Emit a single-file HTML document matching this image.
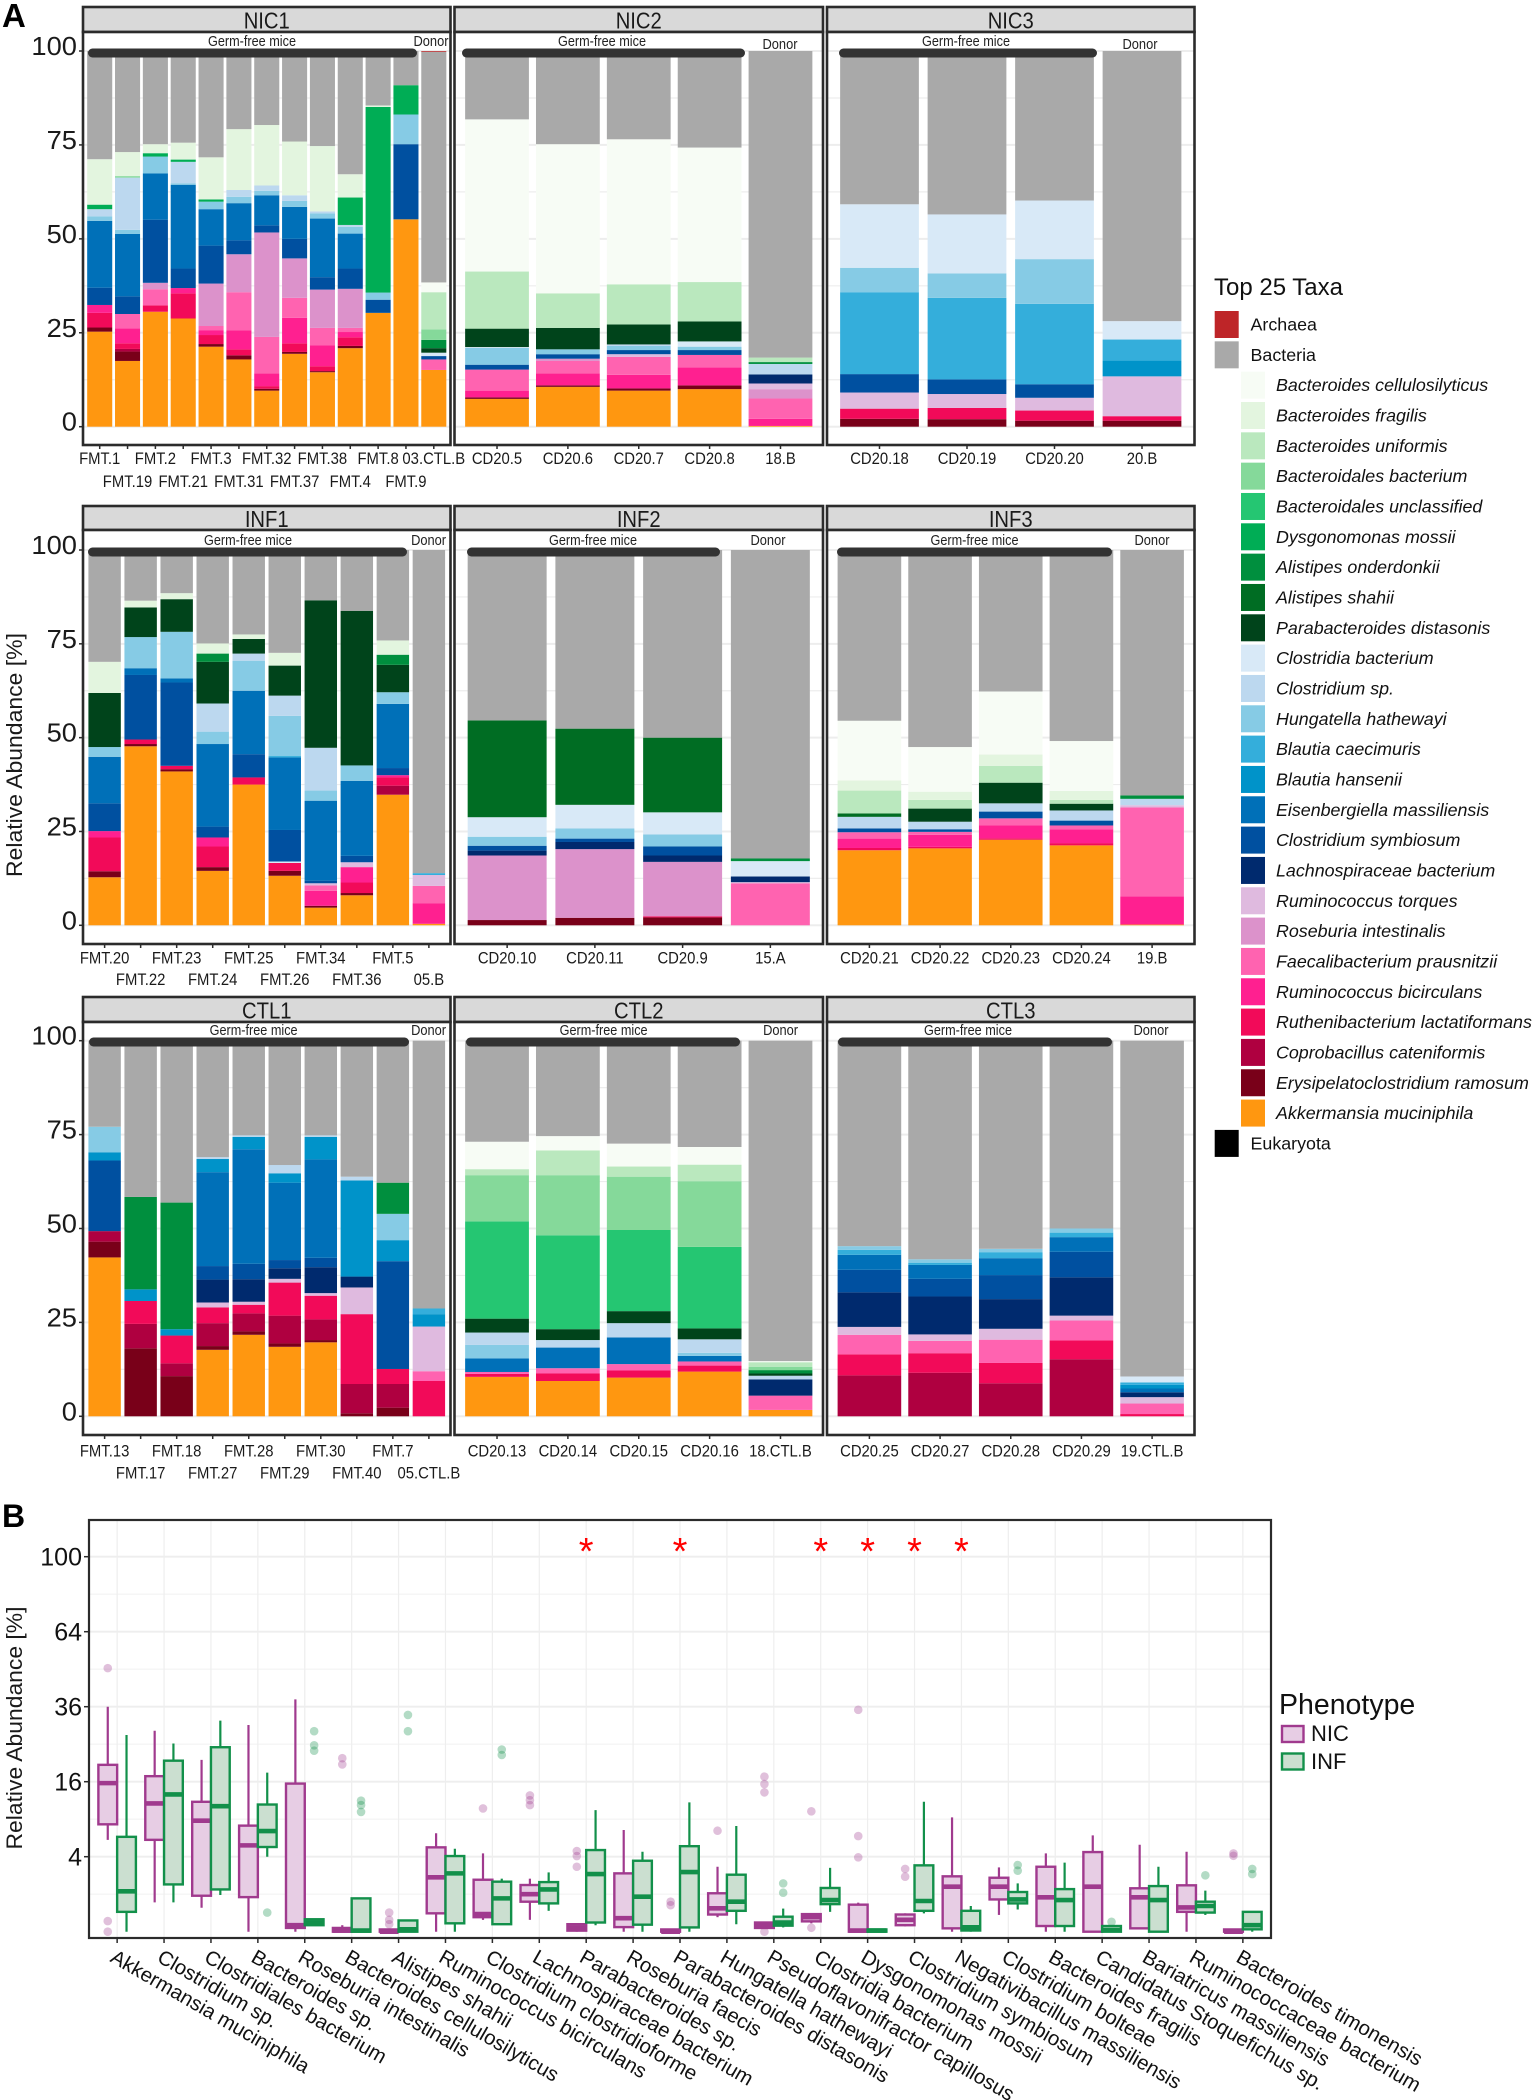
<!DOCTYPE html>
<html lang="en">
<head>
<meta charset="utf-8">
<title>Top 25 taxa and relative abundance by phenotype</title>
<style>
html,body{margin:0;padding:0;background:#fff;width:1533px;height:2100px;overflow:hidden}
svg{display:block;font-family:"Liberation Sans",Arial,sans-serif}
</style>
</head>
<body>
<svg id="figure" xmlns="http://www.w3.org/2000/svg" width="1533" height="2100" viewBox="0 0 1533 2100"></svg>
<script>
/* ---------- Legend / taxa ---------- */
const taxaNames = ["Bacteroides cellulosilyticus","Bacteroides fragilis","Bacteroides uniformis","Bacteroidales bacterium","Bacteroidales unclassified","Dysgonomonas mossii","Alistipes onderdonkii","Alistipes shahii","Parabacteroides distasonis","Clostridia bacterium","Clostridium sp.","Hungatella hathewayi","Blautia caecimuris","Blautia hansenii","Eisenbergiella massiliensis","Clostridium symbiosum","Lachnospiraceae bacterium","Ruminococcus torques","Roseburia intestinalis","Faecalibacterium prausnitzii","Ruminococcus bicirculans","Ruthenibacterium lactatiformans","Coprobacillus cateniformis","Erysipelatoclostridium ramosum","Akkermansia muciniphila","Bacteria","Archaea","Eukaryota"];
const taxaColors = ["#F7FCF5","#E3F5DF","#BAE8BE","#85D99A","#25C672","#00AD55","#008F3E","#006D23","#00441B","#D8E9F7","#BCD8EF","#86CBE5","#34AEDB","#0093C9","#0070B8","#0050A0","#002A6E","#DFBADF","#DC92CB","#FF63B0","#FF2090","#F20A59","#AF0040","#790019","#FF9710","#A9A9A9","#BE2528","#000000"];

/* Each stack is a flat list: taxon index, cumulative % at the top of that band (bottom to top). */
const nic1Samples = ["FMT.1","FMT.19","FMT.2","FMT.21","FMT.3","FMT.31","FMT.32","FMT.37","FMT.38","FMT.4","FMT.8","FMT.9","03.CTL.B"];
const nic1Stacks = [
[24,25.3,23,26.4,21,30.3,20,32.4,15,37,14,54.8,11,56,10,57.9,5,59.1,1,71.2,25,100],
[24,17.5,23,20,22,20.7,21,22.2,20,26.2,19,30,15,34.7,14,51.3,11,52.4,10,66.3,3,66.7,1,73.1,25,100],
[24,30.6,21,32.3,19,36.6,18,38.3,15,55.1,14,67.4,11,71.9,5,72.8,1,75.2,25,100],
[24,28.8,21,35.5,20,36.9,15,42.1,14,64.4,11,64.8,10,70.5,5,71.1,1,75.6,25,100],
[24,21.3,23,22,21,24.4,20,25.7,19,26.8,18,38.1,15,48.2,14,57.9,11,59.9,5,60.5,1,71.7,25,100],
[24,17.9,23,19,21,20.6,20,25.6,19,35.8,18,45.9,15,49.6,14,59.5,11,61.2,10,63,1,79.2,25,100],
[24,9.6,23,10.1,21,10.8,20,14.2,19,23.9,18,51.7,15,53.6,14,61.6,11,62.8,10,64.2,1,80.3,25,100],
[24,19.4,23,19.9,21,22.2,20,29,19,34.3,18,44.8,15,50,14,58.5,11,60.1,10,61.6,1,75.9,25,100],
[24,14.5,23,14.8,21,16.1,20,21.7,19,26.3,18,36.5,15,39.8,14,55.4,11,56.8,10,57.3,1,74.7,25,100],
[24,20.9,23,21.5,21,23.8,20,25.2,19,26.3,18,36.7,15,42.1,14,51.4,11,53.2,10,53.7,5,61,1,67.2,25,100],
[24,30.3,15,33.8,11,35.7,5,85.1,1,85.5,25,100],
[24,55.2,15,75.2,11,83.1,5,90.9,25,100],
[24,15.1,19,17.9,15,18.8,9,19.7,8,20.9,6,23.1,3,25.9,2,35.8,0,38.4,25,99.8,26,100]
];
const nic2Samples = ["CD20.5","CD20.6","CD20.7","CD20.8","18.B"];
const nic2Stacks = [
[24,7.4,23,7.8,20,9.6,19,15.2,15,16.5,11,21,9,21.2,8,26.1,2,41.3,0,81.8,25,100],
[24,10.6,23,11,20,14.2,19,17.5,18,18.1,15,19.3,11,20.6,8,26.3,2,35.5,0,75.2,25,100],
[24,9.6,23,10.2,20,13.8,19,18.6,17,19.3,15,20.4,11,21.5,10,21.9,8,27.2,2,37.9,0,76.5,25,100],
[24,10,23,11,20,15.8,19,19.1,15,20.4,11,21.3,9,22.7,8,28,2,38.5,0,74.3,25,100],
[24,0.2,20,2.1,19,7.5,18,10,17,11.5,16,13.9,10,16.7,6,17.2,2,18.4,25,100]
];
const nic3Samples = ["CD20.18","CD20.19","CD20.20","20.B"];
const nic3Stacks = [
[23,2.1,21,4.8,17,9.1,15,14,12,35.8,11,42.3,9,59.2,25,100],
[23,2,21,5,17,8.7,15,12.6,12,34.3,11,40.8,9,56.5,25,100],
[23,1.6,21,4.3,17,7.7,15,11.3,12,32.7,11,44.6,9,60.2,25,100],
[23,1.6,21,2.8,17,13.4,13,17.6,12,23.2,9,28.1,25,100]
];
const inf1Samples = ["FMT.20","FMT.22","FMT.23","FMT.24","FMT.25","FMT.26","FMT.34","FMT.36","FMT.5","05.B"];
const inf1Stacks = [
[24,12.8,23,14.4,21,23.4,20,25.1,15,32.5,14,44.9,11,47.5,8,61.9,1,70.2,25,100],
[24,47.7,23,48.3,21,49.5,15,66.7,14,68.5,11,76.8,8,84.7,1,86.5,25,100],
[24,41,23,41.6,21,42.5,15,64.7,14,65.8,11,78.2,8,86.9,1,88.5,25,100],
[24,14.5,23,15.5,21,21,20,23.4,15,26.3,14,48.3,11,51.6,10,59.1,8,70.2,6,72.4,1,75.1,25,100],
[24,37.5,21,39.4,15,45.6,14,62.5,11,70.5,10,72.4,8,76.3,1,77.5,25,100],
[24,13.2,23,14.5,21,16.6,9,17,15,25.4,14,44.7,12,45.1,11,55.8,10,61.2,8,69.2,1,72.6,25,100],
[24,4.7,23,5.2,20,9.2,19,10.6,17,11.2,15,11.9,14,33.2,11,35.9,10,47.3,8,86.6,25,100],
[24,8,23,8.6,21,11.4,20,15.5,17,16.8,15,18.5,14,38.5,11,42.6,8,83.8,25,100],
[24,34.8,22,37.2,21,39.4,20,40,15,41.9,14,59,11,62.1,8,69.4,6,72.1,1,75.9,25,100],
[24,0.4,20,5.9,19,10.5,17,13.4,12,13.9,25,100]
];
const inf2Samples = ["CD20.10","CD20.11","CD20.9","15.A"];
const inf2Stacks = [
[23,1.4,18,18.6,16,19.9,15,21.2,11,23.6,9,28.8,7,54.6,25,100],
[23,2,18,20.3,16,22.2,15,23.1,11,25.8,9,32.1,7,52.4,25,100],
[23,2.1,21,2.4,18,16.9,16,18.6,15,21,11,24.2,9,30.1,7,50,25,100],
[19,11.2,17,11.5,16,13,9,17.1,6,17.8,25,100]
];
const inf3Samples = ["CD20.21","CD20.22","CD20.23","CD20.24","19.B"];
const inf3Stacks = [
[24,20,21,20.6,20,23.1,19,24.8,15,25.8,10,28.9,7,29.8,2,35.9,1,38.6,0,54.5,25,100],
[24,20.5,21,20.9,20,24.1,19,24.9,15,25.6,10,27.6,8,31.1,2,33.4,1,35.6,0,47.5,25,100],
[24,22.8,21,23.2,20,26.6,19,28.5,15,30.3,10,32.5,8,38,2,42.5,1,45.5,0,62.3,25,100],
[24,21.3,21,21.9,20,25.6,19,26.6,15,27.9,10,30.6,8,32.4,2,33.4,1,35.8,0,49.1,25,100],
[24,0.2,20,7.7,19,31.4,17,32,10,33.7,6,34.6,25,100]
];
const ctl1Samples = ["FMT.13","FMT.17","FMT.18","FMT.27","FMT.28","FMT.29","FMT.30","FMT.40","FMT.7","05.CTL.B"];
const ctl1Stacks = [
[24,42.3,23,46.5,22,49.3,15,68.1,13,70.3,11,77.1,25,100],
[23,18.1,22,24.6,21,30.7,13,33.8,6,58.4,25,100],
[23,10.7,22,14.1,21,21.5,13,23.2,6,56.9,25,100],
[24,17.7,23,18.7,22,24.8,21,29,17,30.3,16,36.4,15,40,14,65,13,68.5,10,69,25,100],
[24,21.7,23,22.6,22,27.4,21,29.7,17,30.5,16,36.5,15,40.6,14,71.1,13,74.4,10,74.8,25,100],
[24,18.5,23,19.4,22,26.8,21,35.6,17,36.6,16,39.4,15,41.6,14,62.2,13,64.7,10,66.9,25,100],
[24,19.7,23,20.3,22,25.8,21,32.1,17,32.8,16,39.7,15,42.2,14,68.4,13,74.4,10,74.8,25,100],
[23,0.8,22,8.6,21,27.2,17,34.3,16,37.2,13,62.8,10,63.8,25,100],
[23,2.3,22,8.6,21,12.6,15,41.3,13,46.9,11,53.9,6,62.2,25,100],
[21,9.4,19,12,17,23.9,13,27.2,12,28.7,25,100]
];
const ctl2Samples = ["CD20.13","CD20.14","CD20.15","CD20.16","18.CTL.B"];
const ctl2Stacks = [
[24,10.5,21,11.3,19,11.8,14,15.4,11,19,10,22.3,8,26,4,51.9,3,64.2,2,65.8,0,73.1,25,100],
[24,9.4,21,11.4,19,12.8,14,18.3,10,20.3,8,23.2,4,48.2,3,64.2,2,70.8,0,74.6,25,100],
[24,10.3,21,12.2,19,13.9,14,21,10,24.8,8,28,4,49.6,3,63.8,2,66.5,0,72.6,25,100],
[24,11.9,21,13.5,19,14.6,14,16.1,11,16.9,10,20.5,8,23.4,4,45.1,3,62.6,2,67,0,71.7,25,100],
[24,1.7,19,5.5,16,9.8,10,10.8,8,11.4,6,12.3,3,13.2,2,14.4,0,14.7,25,100]
];
const ctl3Samples = ["CD20.25","CD20.27","CD20.28","CD20.29","19.CTL.B"];
const ctl3Stacks = [
[22,10.9,21,16.5,19,21.7,17,23.8,16,33,15,39,14,43,12,44.3,11,45.3,25,100],
[22,11.6,21,16.8,19,20.1,17,21.8,16,31.9,15,36.6,14,40.3,12,40.9,11,41.8,25,100],
[22,8.8,21,14.2,19,20.4,17,23.3,16,31.2,15,37.6,14,42.1,12,43.7,11,44.6,25,100],
[22,15.2,21,20.2,19,25.5,17,26.8,16,37,15,43.8,14,47.7,12,48.9,11,50,25,100],
[21,0.6,19,3.4,17,5.1,16,6.4,14,7.4,13,8.4,12,9,9,10.6,25,100]
];
const stackedTicks = [0,25,50,75,100];

/* ---------- Panel B: box plot values ---------- */
const boxCategories = ["Akkermansia muciniphila","Clostridium sp.","Clostridiales bacterium","Bacteroides sp.","Roseburia intestinalis","Bacteroides cellulosilyticus","Alistipes shahii","Ruminococcus bicirculans","Clostridium clostridioforme","Lachnospiraceae bacterium","Parabacteroides sp.","Roseburia faecis","Parabacteroides distasonis","Hungatella hathewayi","Pseudoflavonifractor capillosus","Clostridia bacterium","Dysgonomonas mossii","Clostridium symbiosum","Negativibacillus massiliensis","Clostridium bolteae","Bacteroides fragilis","Candidatus Stoquefichus sp.","Bariatricus massiliensis","Ruminococcaceae bacterium","Bacteroides timonensis"];
const boxTicks = [4,16,36,64,100];
const boxMinorTicks = [1,9,25,49,81];
const significantCategories = [10,12,15,16,17,18];
const nicHigh = [36,28.7,21,30.4,38.4,.03,.0036,6.9,4.36,2,.04,7.35,.0036,3,.06,.22,.6,.24,9.3,2.94,4.36,6.6,5.38,4.55,.0036];
const nicQ3 = [19.8,17.2,12,8,15.6,.01,.0036,5.06,1.92,1.55,.04,2.42,.0036,1.05,.06,.22,.52,.21,2.18,2.07,3,4.51,1.34,1.53,.0036];
const nicMedian = [15.7,11.7,8.76,5.3,.03,.0009,0,2.1,.22,1,.013,.13,0,.39,.03,.15,.0009,.1,1.44,1.44,.84,1.44,.84,.42,0];
const nicQ1 = [8.2,6,.92,.85,.01,0,0,.24,.15,.64,.0008,.015,0,.21,.01,.076,0,.03,.008,.74,.023,0,.008,.28,0];
const nicLow = [6,.61,.41,0,0,0,0,0,.1,.1,0,0,0,.15,.01,.05,0,.02,0,.2,0,0,.008,0,0];
const nicOutliers = [[49.4,.08,0],[],[],[],[],[21.4,19.9],[.26,.1,.04],[],[10.8],[13.2,12.3,11.4],[4.63,4.07,3],[],[.64,.5],[7.25],[17.1,15.5,13.8,0],[10.3,.011],[35,6.5,3.93],[2.8,2.15],[],[],[],[],[],[],[4.36,4.1]];
const infHigh = [27.5,25.2,31.7,18,.11,.79,.09,4.9,2,2.5,10.5,4.55,11.9,7.94,.38,2.9,.0036,12,.47,1.66,3.39,.023,3,1.2,.28];
const infQ3 = [6.4,20.8,24.2,11.5,.11,.79,.09,4.07,1.78,1.75,4.74,3.58,5.2,2.31,.16,1.36,.0036,3.13,.31,1.12,1.29,.023,1.48,.64,.28];
const infMedian = [1.16,13.4,11.2,7.2,.06,.001,.004,2.42,.79,1.27,2.36,.87,2.53,.64,.06,.71,.0009,.67,.014,.74,.71,.002,.71,.47,.03];
const infQ1 = [.28,1.59,1.27,5.1,.03,0,0,.05,.04,.57,.06,.035,.013,.31,.026,.54,0,.31,.001,.57,.023,0,0,.26,.004];
const infLow = [0,.61,.96,4,.03,0,0,0,.04,.31,.03,0,0,.04,.013,.28,0,.24,0,.35,0,0,0,.2,0];
const infOutliers = [[],[],[],[.26],[28.6,24.7,23.3],[12.2,11.4,10.2],[33.4,28.6],[],[23.6,22.2],[],[],[],[],[],[1.66,1.08],[],[],[],[],[3.16,2.65],[],[.07],[],[2.26],[2.8,2.36]];

/* ---------- Drawing ---------- */
const NS = "http://www.w3.org/2000/svg";
const fig = document.getElementById("figure");
function mk(parent, tag, attrs, text) {
  const el = document.createElementNS(NS, tag);
  for (const k in attrs) el.setAttribute(k, attrs[k]);
  if (text !== undefined) el.textContent = text;
  parent.appendChild(el);
  return el;
}
function squeeze(el, ratio) {
  el.setAttribute("textLength", (el.getComputedTextLength() * ratio).toFixed(2));
  el.setAttribute("lengthAdjust", "spacingAndGlyphs");
}
const INK = "#2b2b2b";

function drawPanel(cfg) {
  const y = v => cfg.y0 + (cfg.y100 - cfg.y0) * v / 100;
  const step = (cfg.right - cfg.left) / (cfg.samples.length + 0.2);
  const cx = i => cfg.left + (0.6 + i) * step;
  const barW = step * 0.9;

  const g = mk(fig, "g", {});
  
  

  const strip = mk(g, "rect", {x: cfg.left, y: cfg.stripTop, width: cfg.right - cfg.left, height: cfg.stripBottom - cfg.stripTop, fill: "#d9d9d9", stroke: INK, "stroke-width": 2.6});
  
  

  const stripLabel = mk(g, "text", {x: (cfg.left + cfg.right) / 2, y: (cfg.stripTop + cfg.stripBottom) / 2 + 9, "text-anchor": "middle", "font-size": 23, fill: "#1a1a1a"}, cfg.title);
  
  
  squeeze(stripLabel, 0.88);

  const bg = mk(g, "rect", {x: cfg.left, y: cfg.stripBottom, width: cfg.right - cfg.left, height: cfg.bottom - cfg.stripBottom, fill: "#fff"});
  
  

  for (let t = 0; t <= 100; t += 12.5) {
    const grid = mk(g, "line", {x1: cfg.left, x2: cfg.right, y1: y(t), y2: y(t), stroke: "#ededed", "stroke-width": t % 25 === 0 ? 2 : 1.2});
    
    
  }

  cfg.stacks.forEach((stack, i) => {
    const bar = mk(g, "g", {});
    
    
    let prev = 0;
    for (let k = 0; k < stack.length; k += 2) {
      const top = stack[k + 1];
      const seg = mk(bar, "rect", {x: cx(i) - barW / 2, width: barW, y: y(top), height: y(prev) - y(top), fill: taxaColors[stack[k]]});
      
      
      prev = top;
    }
  });

  const germBar = mk(g, "rect", {x: cfg.germX1, width: cfg.germX2 - cfg.germX1, y: cfg.germBarY - 4.5, height: 9, rx: 4.5, fill: "#333"});
  
  

  const germText = mk(g, "text", {x: cfg.germTextX, y: cfg.labelY, "text-anchor": "middle", "font-size": 14.5, fill: "#222", textLength: 88, lengthAdjust: "spacingAndGlyphs"}, "Germ-free mice");
  
  

  const clipId = "clip-" + cfg.title;
  const clip = mk(g, "clipPath", {id: clipId});
  mk(clip, "rect", {x: cfg.left, y: cfg.stripBottom, width: cfg.right - cfg.left, height: 40});
  const donorText = mk(g, "text", {x: cfg.donorX, y: cfg.labelY + (cfg.title === "NIC1" ? 0 : cfg.donorDy), "text-anchor": "middle", "font-size": 14.5, fill: "#222", textLength: 35, lengthAdjust: "spacingAndGlyphs", "clip-path": "url(#" + clipId + ")"}, "Donor");
  
  

  const frame = mk(g, "rect", {x: cfg.left, y: cfg.stripBottom, width: cfg.right - cfg.left, height: cfg.bottom - cfg.stripBottom, fill: "none", stroke: INK, "stroke-width": 2.6});
  
  

  cfg.samples.forEach((s, i) => {
    const tick = mk(g, "line", {x1: cx(i), x2: cx(i), y1: cfg.bottom, y2: cfg.bottom + 4, stroke: INK, "stroke-width": 1.5});
    
    
    const dodge = cfg.samples.length > 5 && i % 2 === 1;
    const label = mk(g, "text", {x: cx(i), y: cfg.tickLabelY + (dodge ? cfg.dodgeDy : 0), "text-anchor": "middle", "font-size": 16.5, fill: "#1a1a1a"}, s);
    
    
    squeeze(label, 0.9);
  });

  if (cfg.showY) {
    stackedTicks.forEach(t => {
      const tick = mk(g, "line", {x1: cfg.left - 4, x2: cfg.left, y1: y(t), y2: y(t), stroke: INK, "stroke-width": 1.5});
      
      
      const label = mk(g, "text", {x: cfg.left - 6, y: y(t) + 4, "text-anchor": "end", "font-size": 26, fill: "#1a1a1a"}, t);
      
      
      squeeze(label, 1.05);
    });
  }
}

const rowLayout = [
  {stripTop: 7, stripBottom: 32, bottom: 445, y100: 51, y0: 426.7, labelY: 46, germBarY: 53, tickLabelY: 464, dodgeDy: 23, donorDy: 3},
  {stripTop: 506, stripBottom: 530, bottom: 944, y100: 550, y0: 925.3, labelY: 545, germBarY: 552, tickLabelY: 963.5, dodgeDy: 21.5, donorDy: 0},
  {stripTop: 997, stripBottom: 1022, bottom: 1435, y100: 1040.7, y0: 1416.3, labelY: 1035, germBarY: 1042, tickLabelY: 1456.5, dodgeDy: 22, donorDy: 0}
];
const colLayout = [{left: 83, right: 450.5},{left: 454.5, right: 823},{left: 827, right: 1194.5}];
const panelList = [
  {title: "NIC1", row: 0, col: 0, samples: nic1Samples, stacks: nic1Stacks, germX1: 88, germX2: 417, germTextX: 252, donorX: 431},
  {title: "NIC2", row: 0, col: 1, samples: nic2Samples, stacks: nic2Stacks, germX1: 462, germX2: 745, germTextX: 602, donorX: 780},
  {title: "NIC3", row: 0, col: 2, samples: nic3Samples, stacks: nic3Stacks, germX1: 839, germX2: 1097, germTextX: 966, donorX: 1140},
  {title: "INF1", row: 1, col: 0, samples: inf1Samples, stacks: inf1Stacks, germX1: 88, germX2: 407, germTextX: 248, donorX: 428.6},
  {title: "INF2", row: 1, col: 1, samples: inf2Samples, stacks: inf2Stacks, germX1: 467, germX2: 720, germTextX: 593, donorX: 768},
  {title: "INF3", row: 1, col: 2, samples: inf3Samples, stacks: inf3Stacks, germX1: 837, germX2: 1112, germTextX: 974.5, donorX: 1152},
  {title: "CTL1", row: 2, col: 0, samples: ctl1Samples, stacks: ctl1Stacks, germX1: 89, germX2: 409, germTextX: 253.6, donorX: 428.6},
  {title: "CTL2", row: 2, col: 1, samples: ctl2Samples, stacks: ctl2Stacks, germX1: 466, germX2: 740, germTextX: 603.6, donorX: 780.6},
  {title: "CTL3", row: 2, col: 2, samples: ctl3Samples, stacks: ctl3Stacks, germX1: 838, germX2: 1112, germTextX: 968, donorX: 1151}
];
panelList.forEach(p => drawPanel(Object.assign({}, rowLayout[p.row], colLayout[p.col], p, {showY: p.col === 0})));

/* Panel letters and stacked-chart axis title */
const letterA = mk(fig, "text", {x: 2, y: 27, "font-size": 33, "font-weight": "bold", fill: "#000"}, "A");


const letterB = mk(fig, "text", {x: 2, y: 1527, "font-size": 32, "font-weight": "bold", fill: "#000"}, "B");


const yTitleA = mk(fig, "text", {transform: "translate(22,755) rotate(-90)", "text-anchor": "middle", "font-size": 22, fill: "#1a1a1a", textLength: 244, lengthAdjust: "spacingAndGlyphs"}, "Relative Abundance [%]");



/* Taxa legend */
const legend = mk(fig, "g", {});


const legendTitle = mk(legend, "text", {x: 1214, y: 295, "font-size": 24, fill: "#111"}, "Top 25 Taxa");


const legendOrder = [26,25,0,1,2,3,4,5,6,7,8,9,10,11,12,13,14,15,16,17,18,19,20,21,22,23,24,27];
legendOrder.forEach((taxon, row) => {
  const kingdom = taxon >= 25;
  const cy = 324.5 + row * 30.33;
  const swatch = mk(legend, "rect", {x: kingdom ? 1214.7 : 1241, y: cy - 13.5, width: 24, height: 27, fill: taxaColors[taxon]});
  
  
  const label = mk(legend, "text", {x: kingdom ? 1250.5 : 1276, y: cy + 6, "font-size": 17.85, "font-style": kingdom ? "normal" : "italic", fill: "#111"}, taxaNames[taxon]);
  
  
});

/* Panel B */
const bLeft = 89, bRight = 1271, bTop = 1520, bBottom = 1938;
const byScale = v => 1931.7 - 37.5 * Math.sqrt(v);
const bStep = (bRight - bLeft) / (boxCategories.length + 0.2);
const bx = i => bLeft + (0.6 + i) * bStep;
const boxW = bStep * 0.4;

const panelB = mk(fig, "g", {});



boxMinorTicks.forEach(t => {
  const grid = mk(panelB, "line", {x1: bLeft, x2: bRight, y1: byScale(t), y2: byScale(t), stroke: "#f3f3f3", "stroke-width": 1.2});
  
  
});
boxTicks.forEach(t => {
  const grid = mk(panelB, "line", {x1: bLeft, x2: bRight, y1: byScale(t), y2: byScale(t), stroke: "#eeeeee", "stroke-width": 1.8});
  
  
  const tick = mk(panelB, "line", {x1: bLeft - 5, x2: bLeft, y1: byScale(t), y2: byScale(t), stroke: INK, "stroke-width": 1.5});
  
  
  const label = mk(panelB, "text", {x: bLeft - 7, y: byScale(t) + 9, "text-anchor": "end", "font-size": 25, fill: "#111"}, t);
  
  
});
boxCategories.forEach((c, i) => {
  const grid = mk(panelB, "line", {x1: bx(i), x2: bx(i), y1: bTop, y2: bBottom, stroke: "#eeeeee", "stroke-width": 1.2});
  
  
});

function drawBoxes(name, stroke, fill, offset, hi, q3, med, q1, lo, outliers) {
  const series = mk(panelB, "g", {});
  
  
  boxCategories.forEach((c, i) => {
    const x = bx(i) + offset;
    outliers[i].forEach(v => {
      const dot = mk(series, "circle", {cx: x, cy: byScale(v), r: 4.3, fill: stroke, "fill-opacity": 0.32});
      
      
    });
    const whisker = mk(series, "line", {x1: x, x2: x, y1: byScale(hi[i]), y2: byScale(lo[i]), stroke: stroke, "stroke-width": 2.2});
    
    
    const box = mk(series, "rect", {x: x - boxW / 2, width: boxW, y: byScale(q3[i]), height: Math.max(byScale(q1[i]) - byScale(q3[i]), 0), fill: fill, stroke: stroke, "stroke-width": 2.4});
    
    
    const median = mk(series, "line", {x1: x - boxW / 2, x2: x + boxW / 2, y1: byScale(med[i]), y2: byScale(med[i]), stroke: stroke, "stroke-width": 4.6});
    
    
  });
}
drawBoxes('nic', '#A03A8E', '#E7CDE4', -boxW / 2, nicHigh, nicQ3, nicMedian, nicQ1, nicLow, nicOutliers);
drawBoxes('inf', '#12904A', '#CBDFD0', boxW / 2, infHigh, infQ3, infMedian, infQ1, infLow, infOutliers);

significantCategories.forEach(i => {
  const star = mk(panelB, "text", {x: bx(i), y: 1564, "text-anchor": "middle", "font-size": 38, fill: "#ff0000"}, "*");
  
  
});

const bFrame = mk(panelB, "rect", {x: bLeft, y: bTop, width: bRight - bLeft, height: bBottom - bTop, fill: "none", stroke: INK, "stroke-width": 2.2});



boxCategories.forEach((c, i) => {
  const tick = mk(panelB, "line", {x1: bx(i), x2: bx(i), y1: bBottom, y2: bBottom + 5, stroke: INK, "stroke-width": 1.5});
  
  
  const label = mk(panelB, "text", {transform: "translate(" + (bx(i) - 8) + ",1961) rotate(30)", "text-anchor": "start", "font-size": 20.4, fill: "#111"}, c);
  
  
});

const yTitleB = mk(panelB, "text", {transform: "translate(22,1728) rotate(-90)", "text-anchor": "middle", "font-size": 22, fill: "#1a1a1a", textLength: 243, lengthAdjust: "spacingAndGlyphs"}, "Relative Abundance [%]");



/* Phenotype legend */
const pLegend = mk(fig, "g", {});


const pTitle = mk(pLegend, "text", {x: 1279, y: 1714, "font-size": 28.5, fill: "#111"}, "Phenotype");


const nicKey = mk(pLegend, "rect", {x: 1282, y: 1726, width: 21.5, height: 16, fill: '#E7CDE4', stroke: '#A03A8E', "stroke-width": 2.4});


const nicText = mk(pLegend, "text", {x: 1311, y: 1741, "font-size": 22, fill: "#111"}, "NIC");


const infKey = mk(pLegend, "rect", {x: 1282, y: 1753.5, width: 21.5, height: 16, fill: '#CBDFD0', stroke: '#12904A', "stroke-width": 2.4});


const infText = mk(pLegend, "text", {x: 1311, y: 1769, "font-size": 22, fill: "#111"}, "INF");


</script>
</body>
</html>
